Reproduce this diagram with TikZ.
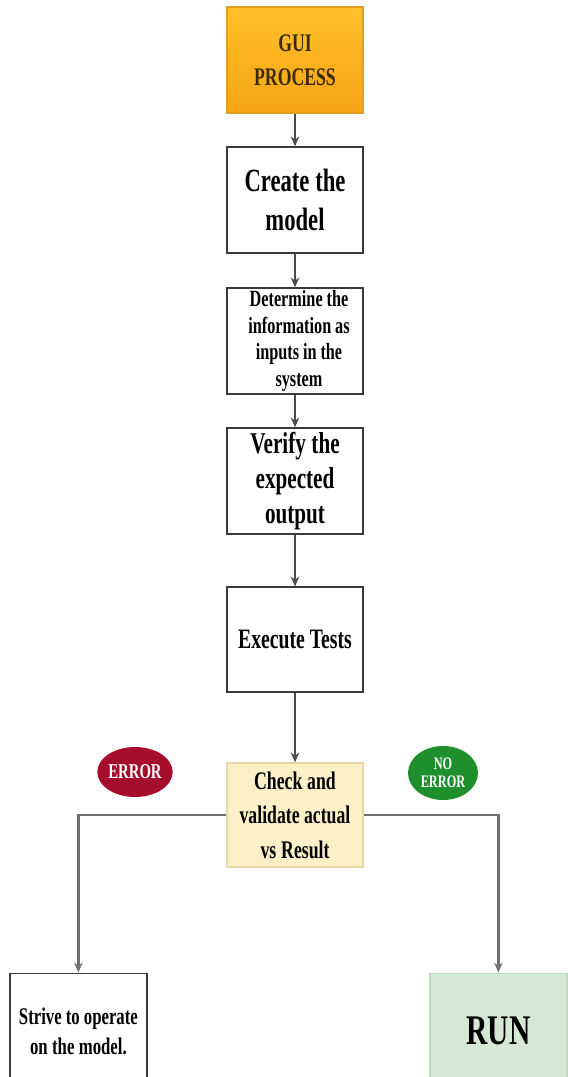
\documentclass[tikz,border=0pt]{standalone}
\usepackage{fontspec}
\setmainfont{Liberation Serif}[FakeStretch=0.7]
\usetikzlibrary{shapes,arrows.meta,positioning,calc}
\definecolor{boxline}{HTML}{3A3A3A}
\definecolor{linegray}{HTML}{4A4A4A}
\definecolor{branchgray}{HTML}{707070}
\definecolor{guitop}{HTML}{FFC12A}
\definecolor{guibottom}{HTML}{F7A414}
\definecolor{guiline}{HTML}{E0A020}
\definecolor{guitext}{HTML}{3B2A05}
\definecolor{checkfill}{HTML}{FDEFC6}
\definecolor{checkline}{HTML}{E6D7A6}
\definecolor{errorred}{HTML}{A50E2B}
\definecolor{okgreen}{HTML}{1F8F2E}
\definecolor{runfill}{HTML}{D5E8D4}
\definecolor{runline}{HTML}{C2DAC0}
\tikzset{
  stepbox/.style={rectangle, draw=boxline, line width=1pt, fill=white, minimum width=3.4cm, text width=3.1cm, align=center, inner sep=2pt,
    execute at begin node={\spaceskip=0.17em plus 0.05em\relax}},
  tag/.style={ellipse, minimum width=1.75cm, minimum height=1.25cm, inner sep=0pt, align=center, text=white},
  arrow/.style={-{Stealth[length=7pt, width=6pt]}, line width=0.9pt, draw=linegray},
  branch/.style={-{Stealth[length=7pt, width=6pt]}, line width=1.6pt, draw=branchgray},
}

\begin{document}
\begin{tikzpicture}

\clip (0,0) rectangle (14.2,-26.925);

% Main column
\node[stepbox, draw=guiline, top color=guitop, bottom color=guibottom, minimum height=2.65cm, text=guitext, font=\bfseries\fontsize{18}{24}\selectfont] (gui) at (7.375,-1.5) {GUI\\PROCESS};
\node[stepbox, minimum height=2.65cm, font=\bfseries\fontsize{23}{28}\selectfont] (create) at (7.375,-5.0) {Create the\\model};
\node[stepbox, minimum height=2.65cm, inner sep=0pt, font=\bfseries\fontsize{16.5}{19}\selectfont] (determine) at (7.375,-8.525) {\parbox[c][2.45cm][c]{3.3cm}{\centering Determine the\\information as\\inputs in the\\system}};
\node[stepbox, minimum height=2.65cm, font=\bfseries\fontsize{21.5}{25}\selectfont] (verify) at (7.375,-12.025) {Verify the\\expected\\output};
\node[stepbox, minimum height=2.625cm, font=\bfseries\fontsize{20}{24}\selectfont] (execute) at (7.375,-15.99) {Execute Tests};
\node[stepbox, draw=checkline, fill=checkfill, minimum height=2.6cm, font=\bfseries\fontsize{18}{24.5}\selectfont] (check) at (7.375,-20.375) {Check and\\validate actual\\vs Result};

% Outcome labels
\node[tag, fill=errorred, font=\bfseries\fontsize{15}{15}\selectfont] (error) at (3.375,-19.3) {ERROR};
\node[tag, fill=okgreen, minimum height=1.35cm, font=\bfseries\fontsize{12.5}{13}\selectfont] (noerror) at (11.075,-19.325) {NO\\ERROR};

% Outcomes
\node[stepbox, minimum width=3.425cm, minimum height=2.9cm, font=\bfseries\fontsize{17}{21}\selectfont] (strive) at (1.96,-25.78) {Strive to operate\\on the model.};
\node[stepbox, draw=runline, fill=runfill, minimum width=3.425cm, minimum height=2.9cm, font=\bfseries\fontsize{30}{30}\selectfont] (run) at (12.46,-25.78) {RUN};

% Connectors
\draw[arrow] (gui) -- (create);
\draw[arrow] (create) -- (determine);
\draw[arrow] (determine) -- (verify);
\draw[arrow] (verify) -- (execute);
\draw[arrow] (execute) -- (check);
\draw[branch] (check.west) -| (strive.north);
\draw[branch] (check.east) -| (run.north);

\end{tikzpicture}
\end{document}
